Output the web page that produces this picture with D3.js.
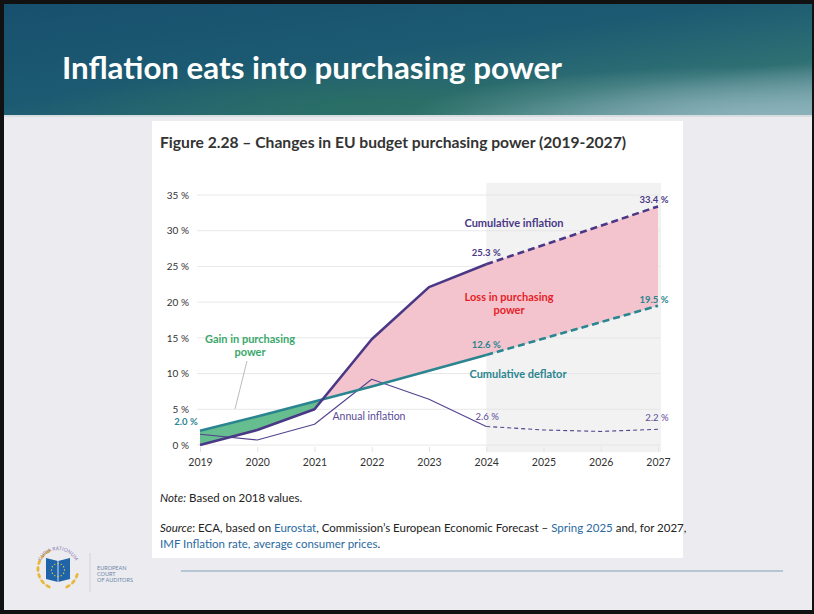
<!DOCTYPE html>
<html>
<head>
<meta charset="utf-8">
<script src="https://cdn.jsdelivr.net/npm/d3@7"></script>
<style>
  html, body { margin: 0; padding: 0; background: #fff; }
  svg { display: block; }
  text { font-family: Lato, "Open Sans", sans-serif; }
</style>
</head>
<body>
<div id="slide"></div>
<script>
// data
var years = [2019, 2020, 2021, 2022, 2023, 2024, 2025, 2026, 2027];
var cumInflation = [0, 2.1, 5.0, 14.8, 22.1, 25.3, 28.0, 30.7, 33.4];
var cumDeflator = [2.0, 4.0, 6.1, 8.2, 10.4, 12.6, 14.9, 17.2, 19.5];
var annualInflation = [1.5, 0.7, 2.9, 9.2, 6.4, 2.6, 2.1, 1.9, 2.2];
var yTicks = [0, 5, 10, 15, 20, 25, 30, 35];
var forecastFrom = 2024;

var W = 814, H = 614;

var svg = d3.select("#slide")
  .append("svg")
  .attr("width", W)
  .attr("height", H);

var defs = svg.append("defs");

// header gradient
var grad = defs.append("linearGradient")
  .attr("id", "hdr")
  .attr("x1", "0%").attr("y1", "0%")
  .attr("x2", "100%").attr("y2", "100%");
grad.append("stop").attr("offset", "0%").attr("stop-color", "#17506e");
grad.append("stop").attr("offset", "45%").attr("stop-color", "#1c5a72");
grad.append("stop").attr("offset", "75%").attr("stop-color", "#2f7073");
grad.append("stop").attr("offset", "100%").attr("stop-color", "#82aab3");

var grad2 = defs.append("radialGradient")
  .attr("id", "hdrGlow")
  .attr("cx", "95%").attr("cy", "100%").attr("r", "45%");
grad2.append("stop").attr("offset", "0%").attr("stop-color", "#8db3bb").attr("stop-opacity", 0.9);
grad2.append("stop").attr("offset", "100%").attr("stop-color", "#8db3bb").attr("stop-opacity", 0);

var grad3 = defs.append("radialGradient")
  .attr("id", "hdrGreen")
  .attr("cx", "45%").attr("cy", "90%").attr("r", "40%");
grad3.append("stop").attr("offset", "0%").attr("stop-color", "#2a7060").attr("stop-opacity", 0.7);
grad3.append("stop").attr("offset", "100%").attr("stop-color", "#2a7060").attr("stop-opacity", 0);

// page background + frame
svg.append("rect").attr("width", W).attr("height", H).attr("fill", "#111");
svg.append("rect")
  .attr("x", 4).attr("y", 4)
  .attr("width", W - 6).attr("height", H - 8)
  .attr("fill", "#ececf0");

svg.append("rect")
  .attr("x", 4).attr("y", 4)
  .attr("width", W - 6).attr("height", 112)
  .attr("fill", "url(#hdr)");
svg.append("rect")
  .attr("x", 4).attr("y", 4)
  .attr("width", W - 6).attr("height", 112)
  .attr("fill", "url(#hdrGreen)");
svg.append("rect")
  .attr("x", 4).attr("y", 4)
  .attr("width", W - 6).attr("height", 112)
  .attr("fill", "url(#hdrGlow)");
svg.append("rect")
  .attr("x", 4).attr("y", 115)
  .attr("width", W - 6).attr("height", 2)
  .attr("fill", "#d8dde0");

svg.append("text")
  .attr("x", 62).attr("y", 79)
  .attr("fill", "#fff")
  .attr("font-size", 30)
  .attr("font-weight", "bold")
  .attr("textLength", 500)
  .attr("lengthAdjust", "spacingAndGlyphs")
  .text("Inflation eats into purchasing power");

// white card
svg.append("rect")
  .attr("x", 152).attr("y", 121)
  .attr("width", 531).attr("height", 437)
  .attr("fill", "#fff");

svg.append("text")
  .attr("x", 160).attr("y", 148)
  .attr("fill", "#333")
  .attr("font-size", 15)
  .attr("font-weight", "bold")
  .attr("textLength", 466)
  .attr("lengthAdjust", "spacingAndGlyphs")
  .text("Figure 2.28 \u2013 Changes in EU budget purchasing power (2019-2027)");

// chart area
var x = d3.scaleLinear().domain([2019, 2027]).range([200, 658]);
var y = d3.scaleLinear().domain([0, 35]).range([445, 195]);

var chartGroup = svg.append("g");

// forecast shading
chartGroup.append("rect")
  .attr("x", x(forecastFrom))
  .attr("y", y(36.7))
  .attr("width", x(2027) - x(forecastFrom) + 3)
  .attr("height", y(-1) - y(36.7))
  .attr("fill", "#f2f2f2");

// gridlines
chartGroup.selectAll(".grid")
  .data(yTicks)
  .enter()
  .append("line")
  .attr("x1", x(2019) - 3)
  .attr("x2", x(2027) + 2)
  .attr("y1", d => y(d))
  .attr("y2", d => y(d))
  .attr("stroke", "#e2e2e2")
  .attr("stroke-width", 0.8);

// left labels
var leftAxis = d3.axisLeft(y).tickValues(yTicks).tickSize(0).tickPadding(0)
  .tickFormat(d => d + " %");
var yAxis = chartGroup.append("g")
  .attr("transform", `translate(${x(2019) - 11}, 0)`)
  .call(leftAxis);
yAxis.select(".domain").remove();
yAxis.selectAll("text")
  .attr("fill", "#333")
  .attr("font-size", 10)
  .attr("font-family", "Lato, sans-serif");

// bottom labels with small ticks
var bottomAxis = d3.axisBottom(x).tickValues(years).tickSize(5).tickPadding(7)
  .tickFormat(d3.format("d"));
var xAxis = chartGroup.append("g")
  .attr("transform", `translate(0, ${y(0) + 2})`)
  .call(bottomAxis);
xAxis.select(".domain").remove();
xAxis.selectAll("line").attr("stroke", "#e2e2e2");
xAxis.selectAll("text")
  .attr("fill", "#333")
  .attr("font-size", 10.5)
  .attr("font-family", "Lato, sans-serif");

// area between cumulative inflation and deflator
var rows = years.map((yr, i) => ({year: yr, inf: cumInflation[i], def: cumDeflator[i], ann: annualInflation[i]}));

defs.append("clipPath").attr("id", "aboveDef")
  .append("path")
  .datum(rows)
  .attr("d", d3.area().x(d => x(d.year)).y0(0).y1(d => y(d.def)));
defs.append("clipPath").attr("id", "belowDef")
  .append("path")
  .datum(rows)
  .attr("d", d3.area().x(d => x(d.year)).y0(H).y1(d => y(d.def)));

var gap = d3.area()
  .x(d => x(d.year))
  .y0(d => y(d.def))
  .y1(d => y(d.inf));

chartGroup.append("path")
  .datum(rows)
  .attr("clip-path", "url(#aboveDef)")
  .attr("d", gap)
  .attr("fill", "#f3c4cd");
chartGroup.append("path")
  .datum(rows)
  .attr("clip-path", "url(#belowDef)")
  .attr("d", gap)
  .attr("fill", "#66bd8f");

// lines: solid to 2024, dashed after
var actual = rows.filter(d => d.year <= forecastFrom);
var forecast = rows.filter(d => d.year >= forecastFrom);

function drawSeries(key, color, width, dash) {
  var line = d3.line().x(d => x(d.year)).y(d => y(d[key]));
  chartGroup.append("path")
    .datum(actual)
    .attr("d", line)
    .attr("fill", "none")
    .attr("stroke", color)
    .attr("stroke-width", width)
    .attr("stroke-linejoin", "round");
  chartGroup.append("path")
    .datum(forecast)
    .attr("d", line)
    .attr("fill", "none")
    .attr("stroke", color)
    .attr("stroke-width", width)
    .attr("stroke-dasharray", dash);
}

drawSeries("ann", "#54428f", 1.1, "4,3");
drawSeries("def", "#2a8590", 2.6, "7,4");
drawSeries("inf", "#4a3886", 2.6, "7,4");

// annotations
var purple = "#4a3886", teal = "#2a8590";

function label(txt, xx, yy, color, size, bold, anchor) {
  chartGroup.append("text")
    .attr("x", xx).attr("y", yy)
    .attr("fill", color)
    .attr("font-size", size)
    .attr("font-weight", bold ? "bold" : "normal")
    .attr("text-anchor", anchor || "middle")
    .text(txt);
}

label("Cumulative inflation", 514, 227, purple, 11, true);
label(d3.format(".1f")(cumInflation[5]) + " %", x(2024), 256, purple, 9.5, true);
label(d3.format(".1f")(cumInflation[8]) + " %", x(2027) - 4, 203, purple, 9.5, true);
label("Loss in purchasing", 509, 301, "#e61e28", 11, true);
label("power", 509, 314, "#e61e28", 11, true);
label(d3.format(".1f")(cumDeflator[8]) + " %", x(2027) - 4, 303, teal, 9.5, true);
label(d3.format(".1f")(cumDeflator[5]) + " %", x(2024), 348, teal, 9.5, true);
label("Cumulative deflator", 518, 378, teal, 11, true);
label("Gain in purchasing", 250, 343, "#3aa86b", 11, true);
label("power", 250, 356, "#3aa86b", 11, true);
label(d3.format(".1f")(cumDeflator[0]) + " %", 186, 425, teal, 9.5, true);
label("Annual inflation", 369, 420, "#5a4a98", 10.5, false);
label(d3.format(".1f")(annualInflation[5]) + " %", x(2024) + 1, 420, "#5a4a98", 9.5, false);
label(d3.format(".1f")(annualInflation[8]) + " %", x(2027) - 1, 421, "#5a4a98", 9.5, false);

// leader line for the gain label
chartGroup.append("line")
  .attr("x1", 247).attr("y1", 361)
  .attr("x2", 235).attr("y2", 409)
  .attr("stroke", "#aaa")
  .attr("stroke-width", 0.8);

// note + source
var note = svg.append("text").attr("x", 160).attr("y", 502)
  .attr("font-size", 11.5).attr("fill", "#222");
note.append("tspan").attr("font-style", "italic").text("Note:");
note.append("tspan").text(" Based on 2018 values.");

var link = "#2a6aa0";
var src = svg.append("text").attr("x", 160).attr("y", 532)
  .attr("font-size", 11.5).attr("fill", "#222");
src.append("tspan").attr("font-style", "italic").text("Source");
src.append("tspan").text(": ECA, based on ");
src.append("tspan").attr("fill", link).text("Eurostat");
src.append("tspan").text(", Commission\u2019s European Economic Forecast \u2013 ");
src.append("tspan").attr("fill", link).text("Spring 2025");
src.append("tspan").text(" and, for 2027,");
svg.append("text").attr("x", 160).attr("y", 548)
  .attr("font-size", 11.5).attr("fill", link)
  .text("IMF Inflation rate, average consumer prices")
  .append("tspan").attr("fill", "#222").text(".");

// footer
svg.append("line")
  .attr("x1", 181).attr("x2", 783)
  .attr("y1", 571).attr("y2", 571)
  .attr("stroke", "#7ea2b8").attr("stroke-width", 1.2);

var logo = svg.append("g").attr("transform", "translate(58, 569)");
var ring = d3.range(0, 360, 20);
logo.selectAll(".laurel")
  .data(ring.filter(a => a > 110 && a < 350 && (a < 250 || a > 290)))
  .enter()
  .append("ellipse")
  .attr("cx", a => 20 * Math.cos(a * Math.PI / 180))
  .attr("cy", a => -20 * Math.sin(a * Math.PI / 180))
  .attr("rx", 3).attr("ry", 1.5)
  .attr("transform", a => `rotate(${-a + 90}, ${20 * Math.cos(a * Math.PI / 180)}, ${-20 * Math.sin(a * Math.PI / 180)})`)
  .attr("fill", "#e8b83a");
logo.append("path")
  .attr("d", "M-12,-11 L0,-8 L12,-11 L12,10 L0,13 L-12,10 Z")
  .attr("fill", "#1f64a8");
logo.append("line").attr("x1", 0).attr("y1", -8).attr("x2", 0).attr("y2", 13)
  .attr("stroke", "#fff").attr("stroke-width", 0.8);
logo.selectAll(".star")
  .data(d3.range(12))
  .enter()
  .append("circle")
  .attr("cx", i => 6.5 * Math.cos(i * Math.PI / 6))
  .attr("cy", i => 1 + 6.5 * Math.sin(i * Math.PI / 6))
  .attr("r", 0.7)
  .attr("fill", "#f3d13b");
logo.append("path")
  .attr("id", "arc")
  .attr("d", "M-18,-6 A19,19 0 0,1 18,-6")
  .attr("fill", "none");
logo.append("text")
  .attr("font-size", 5)
  .attr("fill", "#8a7ab0")
  .append("textPath")
  .attr("href", "#arc")
  .attr("startOffset", "50%")
  .attr("text-anchor", "middle")
  .text("CURIA RATIONUM");

svg.append("line")
  .attr("x1", 90).attr("x2", 90)
  .attr("y1", 553).attr("y2", 592)
  .attr("stroke", "#cfd3d8");
["EUROPEAN", "COURT", "OF AUDITORS"].forEach(function(t, i) {
  svg.append("text")
    .attr("x", 97).attr("y", 570 + i * 6)
    .attr("font-size", 5.5)
    .attr("fill", "#6e86a8")
    .text(t);
});
</script>
</body>
</html>
